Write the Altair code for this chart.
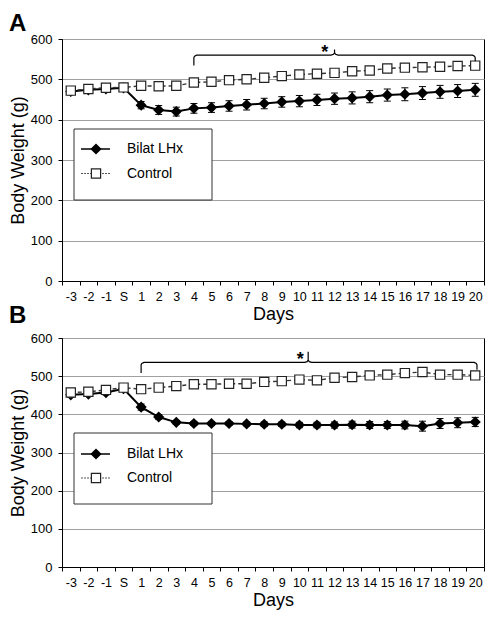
import altair as alt
import pandas as pd

DAYS = ["-3", "-2", "-1", "S"] + [str(i) for i in range(1, 21)]

# Panel A values (g)
A_LHX = [470, 474, 476, 479, 436, 424, 420, 428, 430, 434, 437, 440, 444, 446, 449, 452, 454, 457, 461, 463, 466, 469, 471, 474]
A_LHX_ERR = [8, 8, 8, 7, 9, 11, 11, 12, 12, 13, 13, 13, 13, 14, 14, 14, 15, 15, 15, 16, 16, 16, 16, 16]
A_CTL = [472, 476, 479, 480, 484, 483, 484, 492, 494, 498, 500, 504, 508, 512, 514, 516, 520, 522, 527, 529, 530, 531, 533, 534]
A_CTL_ERR = [6, 6, 6, 5, 5, 5, 5, 6, 6, 6, 6, 6, 6, 6, 6, 6, 6, 6, 6, 6, 6, 6, 6, 7]

# Panel B values (g)
B_LHX = [451, 453, 457, 467, 419, 393, 379, 376, 376, 376, 375, 374, 374, 372, 372, 372, 373, 372, 372, 372, 369, 376, 378, 380]
B_LHX_ERR = [6, 6, 6, 5, 8, 6, 5, 5, 5, 5, 5, 6, 6, 7, 7, 8, 9, 9, 9, 10, 13, 13, 13, 12]
B_CTL = [457, 459, 464, 470, 466, 470, 474, 479, 479, 480, 480, 485, 487, 491, 489, 496, 498, 502, 504, 508, 511, 504, 504, 502]
B_CTL_ERR = [5] * 24

# significance brackets: start idx, end idx, mid idx, level, left foot, right foot, peak
A_BRACKET = (7, 23, 15, 560, 534, 545, 574)
B_BRACKET = (4, 23.1, 13.5, 536, 508, 517, 564)
A_STAR = (14.45, 552)
B_STAR = (13.05, 529)

FONT = "Liberation Sans"
LABEL_EXPR = "[" + ",".join("'%s'" % d for d in DAYS) + "][round(datum.value + 0.5)] || ''"


def series_df(vals, errs):
    return pd.DataFrame({
        "i": list(range(len(vals))),
        "v": vals,
        "lo": [v - e for v, e in zip(vals, errs)],
        "hi": [v + e for v, e in zip(vals, errs)],
    })


def brace_df(b):
    x0, x1, xm, lev, yl, yr, pk = b
    pts = [
        (x0, yl), (x0, lev - 6), (x0 + 0.04, lev - 2.5), (x0 + 0.16, lev),
        (xm - 0.2, lev), (xm - 0.06, lev + 2), (xm, lev + 6), (xm, pk),
        (xm, lev + 6), (xm + 0.06, lev + 2), (xm + 0.2, lev),
        (x1 - 0.16, lev), (x1 - 0.04, lev - 2.5), (x1, lev - 6), (x1, yr),
    ]
    return pd.DataFrame({"i": [p[0] for p in pts], "v": [p[1] for p in pts], "k": list(range(len(pts)))})


def panel(lhx, lhx_err, ctl, ctl_err, w, h, bracket, star, leg, letters):
    xscale = alt.Scale(domain=[-0.5, 23.5], nice=False, zero=False)
    yscale = alt.Scale(domain=[0, 600], nice=False, zero=True)
    xaxis = alt.Axis(values=[k - 0.5 for k in range(25)], labelExpr=LABEL_EXPR,
                     labelOffset=alt.condition("datum.value > 23", alt.value(0), alt.value(w / 48.0)),
                     grid=False, title="Days", tickSize=4,
                     labelPadding=5, labelOverlap=False, labelFlush=False,
                     labelBound=False, labelFontSize=12.5, titleFontSize=18,
                     titlePadding=3)
    yaxis = alt.Axis(values=[0, 100, 200, 300, 400, 500, 600], grid=True,
                     title="Body Weight (g)", tickSize=4, labelPadding=6,
                     labelFontSize=13, titleFontSize=18, titlePadding=3,
                     gridColor="#a0a0a0", gridWidth=1.2)

    def X(f="i"):
        return alt.X(f + ":Q", scale=xscale, axis=xaxis, title="Days")

    def Y(f):
        return alt.Y(f + ":Q", scale=yscale, axis=yaxis, title="Body Weight (g)")

    L = series_df(lhx, lhx_err)
    C = series_df(ctl, ctl_err)

    lhx_rule = alt.Chart(L).mark_rule(color="black", strokeWidth=1).encode(x=X(), y=Y("lo"), y2="hi:Q")
    lhx_cap1 = alt.Chart(L).mark_tick(color="black", orient="horizontal", size=7, thickness=1, opacity=1).encode(x=X(), y=Y("lo"))
    lhx_cap2 = alt.Chart(L).mark_tick(color="black", orient="horizontal", size=7, thickness=1, opacity=1).encode(x=X(), y=Y("hi"))
    lhx_line = alt.Chart(L).mark_line(color="black", strokeWidth=2).encode(x=X(), y=Y("v"))
    lhx_pts = alt.Chart(L).mark_point(shape="diamond", filled=True, color="black", size=125, opacity=1).encode(x=X(), y=Y("v"))

    ctl_rule = alt.Chart(C).mark_rule(color="#333", strokeWidth=1).encode(x=X(), y=Y("lo"), y2="hi:Q")
    ctl_line = alt.Chart(C).mark_line(color="#333", strokeWidth=1.4, strokeDash=[4, 3]).encode(x=X(), y=Y("v"))
    ctl_pts = alt.Chart(C).mark_point(shape="square", filled=True, fill="white", stroke="#222",
                                      strokeWidth=1.2, size=85, opacity=1).encode(x=X(), y=Y("v"))

    br = alt.Chart(brace_df(bracket)).mark_line(color="black", strokeWidth=1.2).encode(
        x=X(), y=Y("v"), order="k:Q")
    st = alt.Chart(pd.DataFrame({"i": [star[0]], "v": [star[1]]})).mark_text(
        text="*", fontSize=18, fontWeight="bold", color="black", baseline="alphabetic").encode(x=X(), y=Y("v"))

    one = pd.DataFrame({"a": [0]})
    bx0, bx1, by0, by1, r1, r2 = leg
    leg_box = alt.Chart(one).mark_rect(fill="white", stroke="#333", strokeWidth=1).encode(
        x=alt.value(bx0), x2=alt.value(bx1), y=alt.value(by0), y2=alt.value(by1))
    leg_l1 = alt.Chart(one).mark_rule(color="black", strokeWidth=1.5).encode(
        x=alt.value(bx0 + 7), x2=alt.value(bx0 + 36), y=alt.value(r1))
    leg_p1 = alt.Chart(one).mark_point(shape="diamond", filled=True, color="black", size=125, opacity=1).encode(
        x=alt.value(bx0 + 22), y=alt.value(r1))
    leg_t1 = alt.Chart(one).mark_text(align="left", baseline="middle", fontSize=14, color="black").encode(
        x=alt.value(bx0 + 53), y=alt.value(r1), text=alt.value("Bilat LHx"))
    leg_l2 = alt.Chart(one).mark_rule(color="#555", strokeWidth=1, strokeDash=[2, 1]).encode(
        x=alt.value(bx0 + 7), x2=alt.value(bx0 + 36), y=alt.value(r2))
    leg_p2 = alt.Chart(one).mark_point(shape="square", filled=True, fill="white", stroke="#222",
                                       strokeWidth=1.2, size=85, opacity=1).encode(
        x=alt.value(bx0 + 22), y=alt.value(r2))
    leg_t2 = alt.Chart(one).mark_text(align="left", baseline="middle", fontSize=14, color="black").encode(
        x=alt.value(bx0 + 53), y=alt.value(r2), text=alt.value("Control"))

    layers = [lhx_rule, lhx_cap1, lhx_cap2, lhx_line, lhx_pts, ctl_rule, ctl_line, ctl_pts, br, st,
              leg_box, leg_l1, leg_p1, leg_t1, leg_l2, leg_p2, leg_t2]
    for (txt, ly) in letters:
        layers.append(alt.Chart(one).mark_text(align="left", baseline="alphabetic", fontSize=24,
                                               fontWeight="bold", color="black").encode(
            x=alt.value(-53), y=alt.value(ly), text=alt.value(txt)))
    return alt.layer(*layers).properties(width=w, height=h)


WA, HA = 422, 242
WB, HB = 422, 229

pa = panel(A_LHX, A_LHX_ERR, A_CTL, A_CTL_ERR, WA, HA, A_BRACKET, A_STAR,
           (12, 150, 90, 161, 110, 134.5), [("A", -8), ("B", HA + 42)])
pb = panel(B_LHX, B_LHX_ERR, B_CTL, B_CTL_ERR, WB, HB, B_BRACKET, B_STAR,
           (12, 150, 95, 166, 116, 140), [])

chart = alt.vconcat(pa, pb, spacing=2).properties(
    padding={"top": 3, "bottom": 0, "left": 0, "right": 0}
).configure(
    font=FONT
).configure_axis(
    labelFont=FONT, titleFont=FONT, labelColor="black", titleColor="black",
    domainColor="black", tickColor="black", titleFontWeight="normal"
).configure_view(stroke="black", strokeWidth=1)

chart.save("out.html", embed_options={"renderer": "svg", "actions": False})
